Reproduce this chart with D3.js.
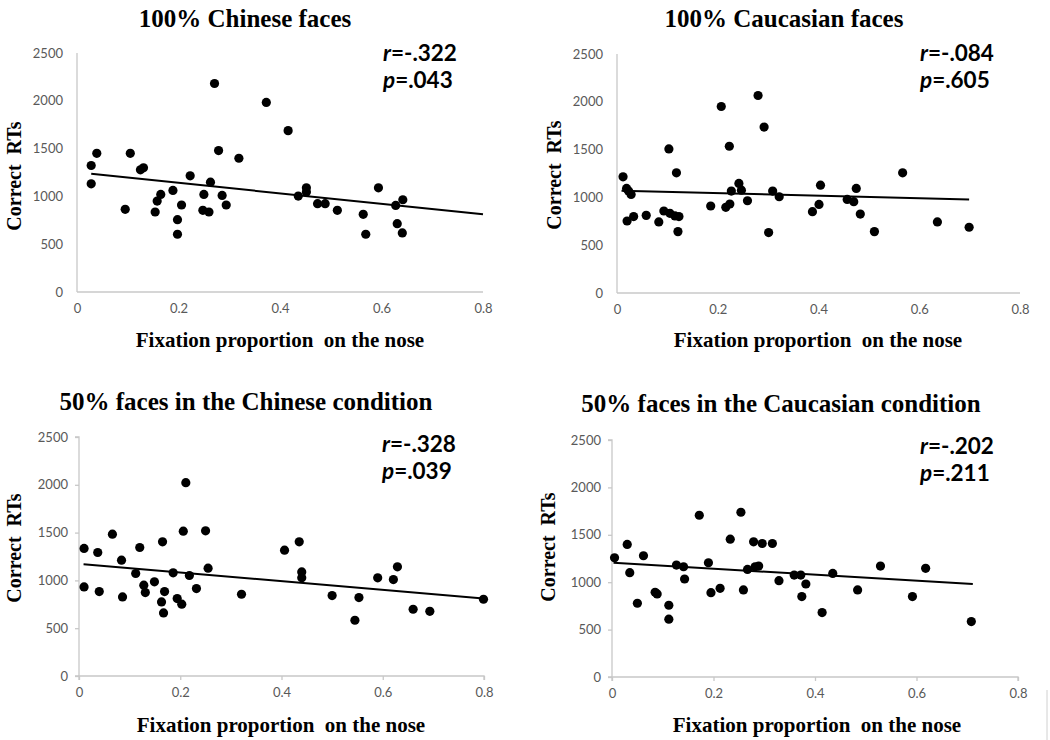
<!DOCTYPE html>
<html>
<head>
<meta charset="utf-8">
<script src="https://cdn.jsdelivr.net/npm/d3@7"></script>
<style>
  body { margin: 0; background: #fff; }
  svg { display: block; }
</style>
</head>
<body>
<div id="chart"></div>
<script>
// ---- data ----
var xTicks = [0, 0.2, 0.4, 0.6, 0.8];
var yTicks = [0, 500, 1000, 1500, 2000, 2500];

var titles = ["100% Chinese faces", "100% Caucasian faces",
              "50% faces in the Chinese condition", "50% faces in the Caucasian condition"];
var rLabels = ["-.322", "-.084", "-.328", "-.202"];
var pLabels = [".043", ".605", ".039", ".211"];

var chinese100X = [0.028,0.028,0.039,0.095,0.105,0.125,0.131,0.154,0.158,0.165,0.189,0.198,0.198,0.206,0.223,0.250,0.248,0.260,0.263,0.271,0.279,0.286,0.294,0.319,0.373,0.416,0.436,0.452,0.452,0.474,0.489,0.513,0.564,0.569,0.594,0.628,0.631,0.641,0.642];
var chinese100Y = [1323,1132,1451,865,1451,1278,1299,837,951,1021,1062,604,757,910,1215,1021,854,837,1149,2181,1479,1010,910,1399,1983,1688,1003,1090,1045,924,924,854,813,604,1090,906,715,618,965];

var caucasian100X = [0.012,0.019,0.023,0.028,0.020,0.033,0.058,0.083,0.093,0.103,0.105,0.115,0.123,0.118,0.121,0.186,0.207,0.216,0.224,0.223,0.227,0.242,0.247,0.259,0.280,0.292,0.301,0.309,0.322,0.388,0.401,0.404,0.457,0.470,0.475,0.483,0.511,0.567,0.636,0.699];
var caucasian100Y = [1215,1094,1066,1031,753,799,812,743,858,1507,833,806,799,1257,642,910,1951,896,931,1535,1066,1146,1076,965,2066,1736,632,1066,1007,851,927,1128,979,955,1094,826,642,1257,743,688];

var chinese50X = [0.010,0.010,0.037,0.040,0.066,0.084,0.086,0.112,0.120,0.128,0.131,0.149,0.165,0.163,0.169,0.167,0.186,0.194,0.203,0.211,0.206,0.218,0.232,0.250,0.255,0.321,0.406,0.435,0.440,0.440,0.500,0.545,0.553,0.590,0.621,0.629,0.660,0.693,0.799];
var chinese50Y = [1334,932,1292,883,1484,1212,827,1072,1344,950,873,985,1404,775,883,660,1079,810,751,2022,1515,1051,915,1519,1128,855,1316,1404,1089,1027,841,583,820,1027,1009,1142,698,677,803];

var caucasian50X = [0.005,0.030,0.035,0.050,0.062,0.085,0.089,0.112,0.112,0.127,0.141,0.143,0.172,0.190,0.195,0.213,0.233,0.254,0.259,0.267,0.279,0.282,0.289,0.296,0.316,0.329,0.359,0.372,0.374,0.382,0.414,0.435,0.484,0.529,0.592,0.618,0.708];
var caucasian50Y = [1258,1398,1100,778,1279,893,876,757,610,1181,1163,1034,1706,1205,890,935,1454,1738,918,1135,1426,1163,1170,1408,1408,1016,1075,1075,848,981,680,1093,918,1170,848,1146,585];

// fitted line ends [x0, y0, x1, y1]
var trendChinese100 = [0.028, 1236, 0.800, 813];
var trendCaucasian100 = [0.009, 1069, 0.699, 979];
var trendChinese50 = [0.009, 1170, 0.799, 810];
var trendCaucasian50 = [0.003, 1205, 0.711, 981];

// ---- layout ----
var width = 1050, height = 740;
var panels = [
  {xs: chinese100X, ys: chinese100Y, trend: trendChinese100, box: [77, 483, 53, 292], ticks: false,
   titleX: 245, titleY: 27, statX: 383, statY: 61, axisTitleX: 280, axisTitleY: 347, yTitleX: 21, yTitleY: 176},
  {xs: caucasian100X, ys: caucasian100Y, trend: trendCaucasian100, box: [617, 1020, 54, 293], ticks: false,
   titleX: 784, titleY: 27, statX: 920, statY: 61, axisTitleX: 818, axisTitleY: 347, yTitleX: 561, yTitleY: 175},
  {xs: chinese50X, ys: chinese50Y, trend: trendChinese50, box: [79, 484, 437, 676], ticks: true,
   titleX: 246, titleY: 410, statX: 382, statY: 452, axisTitleX: 281, axisTitleY: 732, yTitleX: 21, yTitleY: 548},
  {xs: caucasian50X, ys: caucasian50Y, trend: trendCaucasian50, box: [612, 1018, 440, 677], ticks: true,
   titleX: 781, titleY: 412, statX: 920, statY: 454, axisTitleX: 817, axisTitleY: 732, yTitleX: 555, yTitleY: 547}
];

var svg = d3.select("#chart").append("svg")
    .attr("width", width)
    .attr("height", height);

var axisGrey = "#c8c8c8";
var tickGrey = "#595959";
var serif = "'Liberation Serif', 'Times New Roman', serif";

panels.forEach(function(p, i) {
    var x = d3.scaleLinear().domain([0, 0.8]).range([p.box[0], p.box[1]]);
    var y = d3.scaleLinear().domain([0, 2500]).range([p.box[3], p.box[2]]);
    var g = svg.append("g");

    var tickLen = p.ticks ? 4 : 0;

    var xAxis = g.append("g")
        .attr("transform", "translate(0," + p.box[3] + ")")
        .call(d3.axisBottom(x).tickValues(xTicks).tickSize(tickLen).tickPadding(p.ticks ? 8 : 12)
              .tickFormat(function(d){ return d === 0 ? "0" : d3.format(".1f")(d); }));
    var yAxis = g.append("g")
        .attr("transform", "translate(" + p.box[0] + ",0)")
        .call(d3.axisLeft(y).tickValues(yTicks).tickSize(tickLen).tickPadding(p.ticks ? 7 : 14)
              .tickFormat(d3.format("d")));

    [xAxis, yAxis].forEach(function(a) {
        a.select(".domain").attr("stroke", axisGrey).attr("stroke-width", 1.3);
        a.selectAll(".tick line").attr("stroke", axisGrey).attr("stroke-width", 1.3);
        a.selectAll(".tick text")
            .attr("fill", tickGrey)
            .style("font-family", "Lato, 'Open Sans', sans-serif")
            .style("font-size", "13px");
    });
    // axes in the picture have no end caps beyond the ticks
    xAxis.select(".domain").attr("d", "M" + x(0) + "," + tickLen + "V0H" + x(0.8) + "V" + tickLen);
    yAxis.select(".domain").attr("d", "M" + (-tickLen) + "," + y(2500) + "H0V" + y(0) + "H" + (-tickLen));

    // trend line
    g.append("line")
        .attr("x1", x(p.trend[0])).attr("y1", y(p.trend[1]))
        .attr("x2", x(p.trend[2])).attr("y2", y(p.trend[3]))
        .attr("stroke", "#000")
        .attr("stroke-width", 2);

    // points
    g.selectAll("circle.pt")
        .data(p.xs.map(function(v, k){ return [v, p.ys[k]]; }))
        .enter().append("circle")
        .attr("class", "pt")
        .attr("cx", function(d){ return x(d[0]); })
        .attr("cy", function(d){ return y(d[1]); })
        .attr("r", 4.6)
        .attr("fill", "#000");

    // titles
    svg.append("text")
        .attr("x", p.titleX).attr("y", p.titleY)
        .attr("text-anchor", "middle")
        .style("font-family", serif)
        .style("font-weight", "bold")
        .style("font-size", "25px")
        .text(titles[i]);

    svg.append("text")
        .attr("x", p.axisTitleX).attr("y", p.axisTitleY)
        .attr("text-anchor", "middle")
        .style("font-family", serif)
        .style("font-weight", "bold")
        .style("font-size", "21px")
        .style("white-space", "pre")
        .text("Fixation proportion  on the nose");

    svg.append("text")
        .attr("transform", "translate(" + p.yTitleX + "," + p.yTitleY + ") rotate(-90)")
        .attr("text-anchor", "middle")
        .style("font-family", serif)
        .style("font-weight", "bold")
        .style("font-size", "20px")
        .style("white-space", "pre")
        .text("Correct  RTs");

    // r and p
    var st = svg.append("text")
        .attr("x", p.statX).attr("y", p.statY)
        .style("font-family", "Lato, 'Open Sans', sans-serif")
        .style("font-weight", "bold")
        .style("font-size", "22.5px");
    st.append("tspan").style("font-style", "italic").text("r");
    st.append("tspan").text("=" + rLabels[i]);

    var sp = svg.append("text")
        .attr("x", p.statX).attr("y", p.statY + 27)
        .style("font-family", "Lato, 'Open Sans', sans-serif")
        .style("font-weight", "bold")
        .style("font-size", "22.5px");
    sp.append("tspan").style("font-style", "italic").text("p");
    sp.append("tspan").text("=" + pLabels[i]);
});

// faint mark at the lower right edge of the scan
svg.append("line")
    .attr("x1", 1047).attr("y1", 690)
    .attr("x2", 1047).attr("y2", 740)
    .attr("stroke", "#d0d0d0")
    .attr("stroke-width", 1);
</script>
</body>
</html>
